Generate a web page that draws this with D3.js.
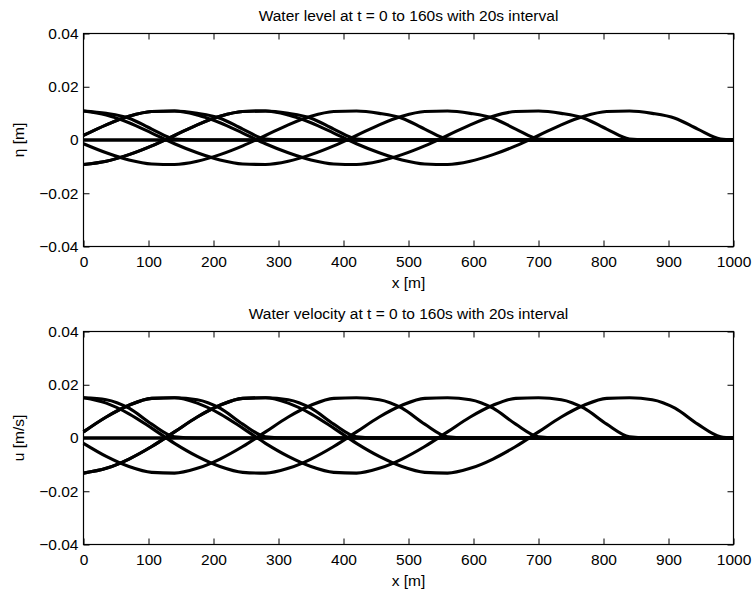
<!DOCTYPE html>
<html><head><meta charset="utf-8">
<script src="https://cdn.jsdelivr.net/npm/d3@7"></script>
<style>
body{margin:0;background:#fff}
svg{display:block}
text{font-family:"Liberation Sans",Arial,Helvetica,sans-serif;fill:#000}
</style>
</head><body>
<svg id="chart" width="753" height="595"></svg>
<script>
// x positions [m]
const xGrid = [0,35,70,105,140,175,210,245,280,315,350,385,420,455,490,525,560,595,630,665,700,735,770,805,840,875,910,945,980,1000];
const times = [0,20,40,60,80,100,120,140,160];
const xTicks = [0,100,200,300,400,500,600,700,800,900,1000];
const yTicks = [-0.04,-0.02,0,0.02,0.04];

// water level eta [m] at each time
const eta0   = [0,0,0,0,0,0,0,0,0,0,0,0,0,0,0,0,0,0,0,0,0,0,0,0,0,0,0,0,0,0];
const eta20  = [0,0,0,0,0,0,0,0,0,0,0,0,0,0,0,0,0,0,0,0,0,0,0,0,0,0,0,0,0,0];
const eta40  = [0.0109,0.0100,0.0082,0.0041,0.0004,0,0,0,0,0,0,0,0,0,0,0,0,0,0,0,0,0,0,0,0,0,0,0,0,0];
const eta60  = [0.0017,0.0057,0.0089,0.0107,0.0109,0.0100,0.0082,0.0041,0.0004,0,0,0,0,0,0,0,0,0,0,0,0,0,0,0,0,0,0,0,0,0];
const eta80  = [-0.0092,-0.0080,-0.0055,-0.0022,0.0017,0.0057,0.0089,0.0107,0.0109,0.0100,0.0082,0.0041,0.0004,0,0,0,0,0,0,0,0,0,0,0,0,0,0,0,0,0];
const eta100 = [-0.0014,-0.0048,-0.0075,-0.0090,-0.0092,-0.0080,-0.0055,-0.0022,0.0017,0.0057,0.0089,0.0107,0.0109,0.0100,0.0082,0.0041,0.0004,0,0,0,0,0,0,0,0,0,0,0,0,0];
const eta120 = [0.0109,0.0094,0.0065,0.0026,-0.0014,-0.0048,-0.0075,-0.0090,-0.0092,-0.0080,-0.0055,-0.0022,0.0017,0.0057,0.0089,0.0107,0.0109,0.0100,0.0082,0.0041,0.0004,0,0,0,0,0,0,0,0,0];
const eta140 = [0.0017,0.0057,0.0089,0.0107,0.0109,0.0094,0.0065,0.0026,-0.0014,-0.0048,-0.0075,-0.0090,-0.0092,-0.0080,-0.0055,-0.0022,0.0017,0.0057,0.0089,0.0107,0.0109,0.0100,0.0082,0.0041,0.0004,0,0,0,0,0];
const eta160 = [-0.0092,-0.0080,-0.0055,-0.0022,0.0017,0.0057,0.0089,0.0107,0.0109,0.0094,0.0065,0.0026,-0.0014,-0.0048,-0.0075,-0.0090,-0.0092,-0.0080,-0.0055,-0.0022,0.0017,0.0057,0.0089,0.0107,0.0109,0.0100,0.0082,0.0041,0.0004,0];

// water velocity u [m/s] at each time
const u0   = [0,0,0,0,0,0,0,0,0,0,0,0,0,0,0,0,0,0,0,0,0,0,0,0,0,0,0,0,0,0];
const u20  = [0,0,0,0,0,0,0,0,0,0,0,0,0,0,0,0,0,0,0,0,0,0,0,0,0,0,0,0,0,0];
const u40  = [0.0151,0.0144,0.0112,0.0052,0.0005,0,0,0,0,0,0,0,0,0,0,0,0,0,0,0,0,0,0,0,0,0,0,0,0,0];
const u60  = [0.0023,0.0079,0.0123,0.0149,0.0151,0.0144,0.0112,0.0052,0.0005,0,0,0,0,0,0,0,0,0,0,0,0,0,0,0,0,0,0,0,0,0];
const u80  = [-0.0132,-0.0114,-0.0079,-0.0032,0.0023,0.0079,0.0123,0.0149,0.0151,0.0144,0.0112,0.0052,0.0005,0,0,0,0,0,0,0,0,0,0,0,0,0,0,0,0,0];
const u100 = [-0.0020,-0.0069,-0.0107,-0.0129,-0.0132,-0.0114,-0.0079,-0.0032,0.0023,0.0079,0.0123,0.0149,0.0151,0.0144,0.0112,0.0052,0.0005,0,0,0,0,0,0,0,0,0,0,0,0,0];
const u120 = [0.0151,0.0131,0.0091,0.0037,-0.0020,-0.0069,-0.0107,-0.0129,-0.0132,-0.0114,-0.0079,-0.0032,0.0023,0.0079,0.0123,0.0149,0.0151,0.0144,0.0112,0.0052,0.0005,0,0,0,0,0,0,0,0,0];
const u140 = [0.0023,0.0079,0.0123,0.0149,0.0151,0.0131,0.0091,0.0037,-0.0020,-0.0069,-0.0107,-0.0129,-0.0132,-0.0114,-0.0079,-0.0032,0.0023,0.0079,0.0123,0.0149,0.0151,0.0144,0.0112,0.0052,0.0005,0,0,0,0,0];
const u160 = [-0.0132,-0.0114,-0.0079,-0.0032,0.0023,0.0079,0.0123,0.0149,0.0151,0.0131,0.0091,0.0037,-0.0020,-0.0069,-0.0107,-0.0129,-0.0132,-0.0114,-0.0079,-0.0032,0.0023,0.0079,0.0123,0.0149,0.0151,0.0144,0.0112,0.0052,0.0005,0];

const etaSeries = [eta0,eta20,eta40,eta60,eta80,eta100,eta120,eta140,eta160];
const uSeries = [u0,u20,u40,u60,u80,u100,u120,u140,u160];

const svg = d3.select("#chart");
const left = 83.5, right = 733.5;
const FS = 15.5;
const fmt = d => d === 0 ? "0" : (d < 0 ? "\u2212" + Math.abs(d).toFixed(2) : d.toFixed(2));

function panel(top, bottom, title, ylabel, series) {
  const x = d3.scaleLinear().domain([0,1000]).range([left,right]);
  const y = d3.scaleLinear().domain([-0.04,0.04]).range([bottom,top]);
  const g = svg.append("g");
  const line = d3.line().x((d,i)=>x(xGrid[i])).y(d=>y(d)).curve(d3.curveMonotoneX);
  g.selectAll("path.s").data(series).join("path")
    .attr("class","s").attr("d", line)
    .attr("fill","none").attr("stroke","#000").attr("stroke-width",3.1)
    .attr("stroke-linejoin","round");

  const ax = (sel) => sel.selectAll(".domain").remove();
  const txt = (s) => s.selectAll("text").attr("font-size",FS).style("font-family","Liberation Sans, Arial, sans-serif");
  g.append("g").attr("transform",`translate(0,${bottom})`)
    .call(d3.axisBottom(x).tickValues(xTicks).tickFormat(d3.format("d")).tickSizeInner(-6).tickSizeOuter(0).tickPadding(9))
    .call(ax).call(txt);
  g.append("g").attr("transform",`translate(0,${top})`)
    .call(d3.axisTop(x).tickValues(xTicks).tickFormat("").tickSizeInner(-6).tickSizeOuter(0))
    .call(ax);
  g.append("g").attr("transform",`translate(${left},0)`)
    .call(d3.axisLeft(y).tickValues(yTicks).tickFormat(fmt).tickSizeInner(-6).tickSizeOuter(0).tickPadding(5))
    .call(ax).call(txt);
  g.append("g").attr("transform",`translate(${right},0)`)
    .call(d3.axisRight(y).tickValues(yTicks).tickFormat("").tickSizeInner(-6).tickSizeOuter(0))
    .call(ax);
  g.selectAll(".tick line").attr("stroke","#000");

  g.append("rect").attr("x",left).attr("y",top).attr("width",right-left).attr("height",bottom-top)
    .attr("fill","none").attr("stroke","#000").attr("stroke-width",1.2);

  g.append("text").attr("x",(left+right)/2).attr("y",top-13).attr("text-anchor","middle")
    .attr("font-size",FS).text(title);
  g.append("text").attr("x",(left+right)/2).attr("y",bottom+41).attr("text-anchor","middle")
    .attr("font-size",FS).text("x [m]");
  g.append("text").attr("transform",`translate(${left-60},${(top+bottom)/2}) rotate(-90)`)
    .attr("text-anchor","middle").attr("font-size",FS).text(ylabel);
}

panel(33.5, 246.5, "Water level at t = 0 to 160s with 20s interval", "\u03b7 [m]", etaSeries);
panel(331.5, 544.5, "Water velocity at t = 0 to 160s with 20s interval", "u [m/s]", uSeries);
</script>
</body></html>
